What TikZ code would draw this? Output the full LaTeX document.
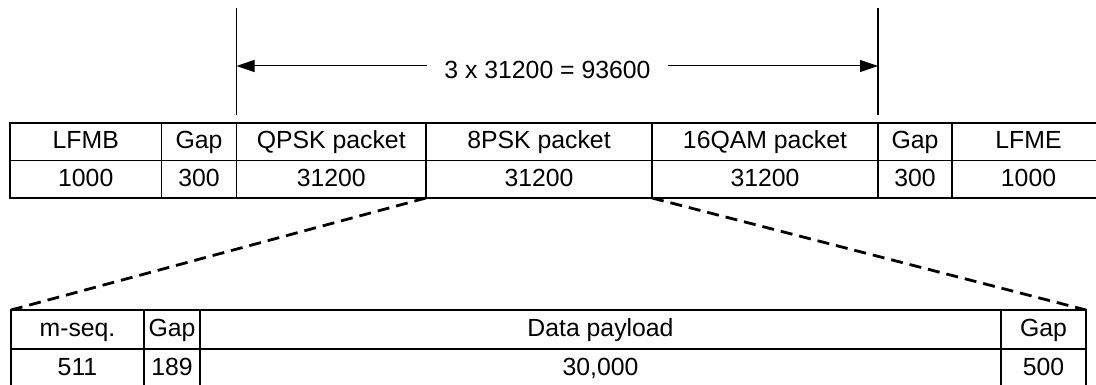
\documentclass[tikz,border=0pt]{standalone}
\usepackage{fontspec}
\setmainfont{Liberation Sans}
\usetikzlibrary{positioning,arrows.meta}

\tikzset{
  cell/.style={draw, line width=1.3pt, inner sep=0pt, outer sep=0pt,
    minimum height=37.5, text height=17.5pt, text depth=4pt},
  lowcell/.style={cell, minimum height=39},
  zoomline/.style={line width=2.8pt, dash pattern=on 12pt off 7pt},
  dimline/.style={line width=1.2pt},
  dimarrow/.style={line width=1pt, -{Triangle[length=18pt,width=12pt]}},
}

\begin{document}
\begin{tikzpicture}[x=1pt,y=-1pt]
\clip (0,0) rectangle (1096,385);
{\fontsize{24.8}{28}\selectfont

% Drawing frame, upper row
\node [cell, minimum width=151.5, anchor=north west] (lfmbh) at (10,123) {LFMB};
\node [cell, minimum width=75, right=0pt of lfmbh] (gapah) {Gap};
\node [cell, minimum width=189.5, right=0pt of gapah] (qpskh) {QPSK packet};
\node [cell, minimum width=226, right=0pt of qpskh] (pskh) {8PSK packet};
\node [cell, minimum width=226, right=0pt of pskh] (qamh) {16QAM packet};
\node [cell, minimum width=74, right=0pt of qamh] (gapbh) {Gap};
\node [cell, minimum width=153, right=0pt of gapbh] (lfmeh) {LFME};

% Drawing frame, lower row
\node [cell, minimum width=151.5, below=0pt of lfmbh] (lfmbv) {1000};
\node [cell, minimum width=75, below=0pt of gapah] (gapav) {300};
\node [cell, minimum width=189.5, below=0pt of qpskh] (qpskv) {31200};
\node [cell, minimum width=226, below=0pt of pskh] (pskv) {31200};
\node [cell, minimum width=226, below=0pt of qamh] (qamv) {31200};
\node [cell, minimum width=74, below=0pt of gapbh] (gapbv) {300};
\node [cell, minimum width=153, below=0pt of lfmeh] (lfmev) {1000};

% Drawing packet, upper row
\node [lowcell, minimum width=133, anchor=north west] (mseqh) at (11,310) {m-seq.};
\node [lowcell, minimum width=56, right=0pt of mseqh] (gapch) {Gap};
\node [lowcell, minimum width=801, right=0pt of gapch] (datah) {Data payload};
\node [lowcell, minimum width=85, right=0pt of datah] (gapdh) {Gap};

% Drawing packet, lower row
\node [lowcell, minimum width=133, below=0pt of mseqh] (mseqv) {511};
\node [lowcell, minimum width=56, below=0pt of gapch] (gapcv) {189};
\node [lowcell, minimum width=801, below=0pt of datah] (datav) {30,000};
\node [lowcell, minimum width=85, below=0pt of gapdh] (gapdv) {500};

% Drawing zoom lines
\draw [zoomline] (pskv.south west) -- (mseqh.north west);
\draw [zoomline] (pskv.south east) -- (gapdh.north east);

% Drawing dimension
\draw [dimline] ([yshift=8pt]qpskh.north west) -- ([yshift=115pt]qpskh.north west);
\draw [dimline] ([yshift=8pt]qamh.north east) -- ([yshift=115pt]qamh.north east);
\coordinate (diml) at ([yshift=57pt]qpskh.north west);
\coordinate (dimr) at ([yshift=57pt]qamh.north east);
\node [inner xsep=17pt, inner ysep=0pt, text height=17.5pt, text depth=0pt] (dimtext) at (547.5,70) {3 x 31200 = 93600};
\draw [dimarrow] (dimtext.west |- diml) -- (diml);
\draw [dimarrow] (dimtext.east |- dimr) -- (dimr);
}
\end{tikzpicture}
\end{document}
